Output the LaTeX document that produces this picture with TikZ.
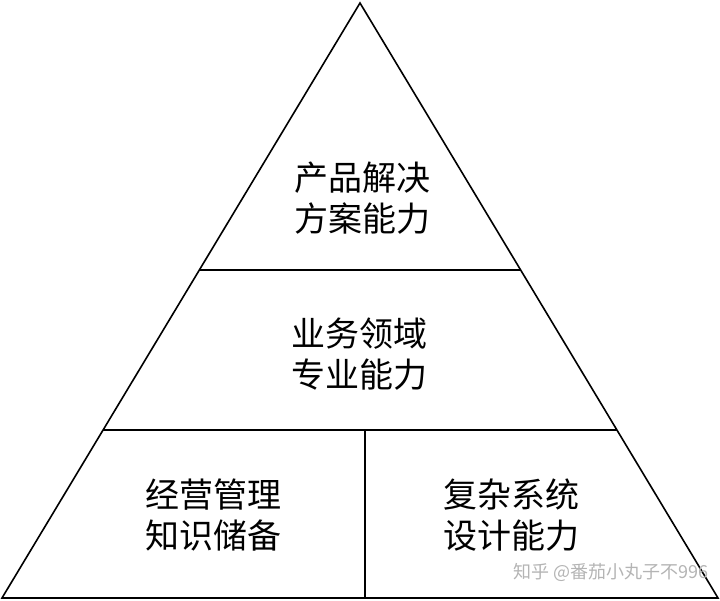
\documentclass[tikz,border=0pt]{standalone}
\usepackage{fontspec}
\setmainfont{Noto Sans CJK SC}
\usepackage{xcolor}
\usetikzlibrary{calc}
\definecolor{markGray}{HTML}{B4B4B4}

\begin{document}
\begin{tikzpicture}[x=1pt,y=-1pt,line width=1.6pt,line join=miter]
  \tikzstyle{layerText}=[align=center,font=\fontsize{34}{41}\selectfont,inner sep=0pt]
  \useasboundingbox (0,0) rectangle (720,601);
  \coordinate (apex) at (360,3);
  \coordinate (baseL) at (2,598);
  \coordinate (baseR) at (718,598);
  \coordinate (midL) at ($(baseL)!0.551!(apex)$);
  \coordinate (midR) at ($(baseR)!0.551!(apex)$);
  \coordinate (lowL) at ($(baseL)!0.282!(apex)$);
  \coordinate (lowR) at ($(baseR)!0.282!(apex)$);
  \coordinate (splitTop) at (lowL -| 365,0);
  \coordinate (splitBot) at (baseL -| 365,0);
  % pyramid outline and layers
  \draw (baseL) -- (apex) -- (baseR) -- cycle;
  \draw (midL) -- (midR);
  \draw (lowL) -- (lowR);
  \draw (splitTop) -- (splitBot);
  % labels
  \node[layerText] (top) at (362,198) {产品解决\\方案能力};
  \node[layerText] (mid) at (359,354) {业务领域\\专业能力};
  \node[layerText] (left) at (213,515) {经营管理\\知识储备};
  \node[layerText] (right) at (511,515) {复杂系统\\设计能力};
  \node[font=\fontsize{18}{18}\selectfont,text=markGray,inner sep=0pt,anchor=west] (mark) at (513,572) {知乎 @番茄小丸子不996};
\end{tikzpicture}
\end{document}
